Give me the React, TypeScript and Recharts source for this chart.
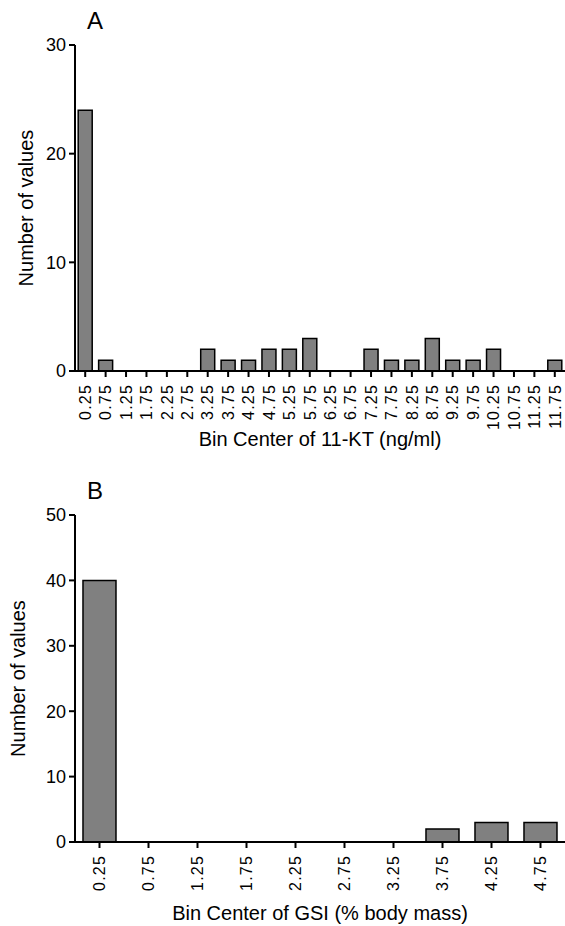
import React from "react";
import { BarChart, Bar, XAxis, YAxis, Label } from "recharts";

// Panel A: 11-KT histogram
const ktBins = [
  "0.25", "0.75", "1.25", "1.75", "2.25", "2.75", "3.25", "3.75",
  "4.25", "4.75", "5.25", "5.75", "6.25", "6.75", "7.25", "7.75",
  "8.25", "8.75", "9.25", "9.75", "10.25", "10.75", "11.25", "11.75",
];
const ktCounts = [24, 1, 0, 0, 0, 0, 2, 1, 1, 2, 2, 3, 0, 0, 2, 1, 1, 3, 1, 1, 2, 0, 0, 1];
const ktTicks = [0, 10, 20, 30];

// Panel B: GSI histogram
const gsiBins = ["0.25", "0.75", "1.25", "1.75", "2.25", "2.75", "3.25", "3.75", "4.25", "4.75"];
const gsiCounts = [40, 0, 0, 0, 0, 0, 0, 2, 3, 3];
const gsiTicks = [0, 10, 20, 30, 40, 50];

const FONT = "'Liberation Sans', Arial, Helvetica, sans-serif";

const ktData = ktBins.map((bin, i) => ({ bin, count: ktCounts[i] }));
const gsiData = gsiBins.map((bin, i) => ({ bin, count: gsiCounts[i] }));

function RotatedTick(props: any) {
  const { x, y, payload } = props;
  return (
    <text
      x={x}
      y={y + 5}
      transform={`rotate(-90, ${x}, ${y + 5})`}
      textAnchor="end"
      dy="0.36em"
      fontSize={16}
      letterSpacing={1.2}
      fontFamily={FONT}
      fill="#000"
    >
      {payload.value}
    </text>
  );
}

interface PanelProps {
  data: { bin: string; count: number }[];
  ticks: number[];
  letter: string;
  xTitle: string;
  height: number;
  axisY: number;
  yTitleX: number;
  xTitleY: number;
  gap: string;
}

function HistPanel({ data, ticks, letter, xTitle, height, axisY, yTitleX, xTitleY, gap }: PanelProps) {
  const top = 45;
  return (
    <div style={{ position: "relative", width: 565, height }}>
      <BarChart
        width={565}
        height={height}
        data={data}
        margin={{ top, right: 0, left: 0, bottom: height - axisY - 80 }}
        barCategoryGap={gap}
      >
        <XAxis
          dataKey="bin"
          interval={0}
          height={80}
          tick={<RotatedTick />}
          tickSize={6}
          axisLine={{ stroke: "#000", strokeWidth: 2 }}
          tickLine={{ stroke: "#000", strokeWidth: 2 }}
        >
          <Label
            content={({ viewBox }: any) => (
              <text
                x={viewBox.x + viewBox.width / 2}
                y={xTitleY - axisY + viewBox.y}
                textAnchor="middle"
                fontSize={20}
                fontFamily={FONT}
                fill="#000"
              >
                {xTitle}
              </text>
            )}
          />
        </XAxis>
        <YAxis
          width={75}
          domain={[0, ticks[ticks.length - 1]]}
          ticks={ticks}
          interval={0}
          tickSize={6}
          tickMargin={3}
          tick={{ fontSize: 18, fill: "#000", fontFamily: FONT }}
          axisLine={{ stroke: "#000", strokeWidth: 2 }}
          tickLine={{ stroke: "#000", strokeWidth: 2 }}
        >
          <Label
            content={({ viewBox }: any) => {
              const cy = viewBox.y + viewBox.height / 2;
              return (
                <text
                  x={yTitleX}
                  y={cy}
                  transform={`rotate(-90, ${yTitleX}, ${cy})`}
                  textAnchor="middle"
                  fontSize={20}
                  fontFamily={FONT}
                  fill="#000"
                >
                  Number of values
                </text>
              );
            }}
          />
        </YAxis>
        <Bar dataKey="count" fill="#808080" stroke="#000" strokeWidth={1.5} isAnimationActive={false} />
      </BarChart>
      <div
        style={{
          position: "absolute",
          left: 87,
          top: top - 38,
          fontSize: 24,
          fontFamily: FONT,
          color: "#000",
          lineHeight: "28px",
        }}
      >
        {letter}
      </div>
    </div>
  );
}

export default function App() {
  return (
    <div
      style={{
        position: "absolute",
        left: 0,
        top: 0,
        width: 565,
        height: 926,
        background: "#fff",
        overflow: "hidden",
      }}
    >
      <HistPanel
        data={ktData}
        ticks={ktTicks}
        letter="A"
        xTitle="Bin Center of 11-KT (ng/ml)"
        height={470}
        axisY={371}
        yTitleX={33}
        xTitleY={446}
        gap="15.7%"
      />
      <HistPanel
        data={gsiData}
        ticks={gsiTicks}
        letter="B"
        xTitle="Bin Center of GSI (% body mass)"
        height={456}
        axisY={372}
        yTitleX={25}
        xTitleY={450}
        gap="16.3%"
      />
    </div>
  );
}
